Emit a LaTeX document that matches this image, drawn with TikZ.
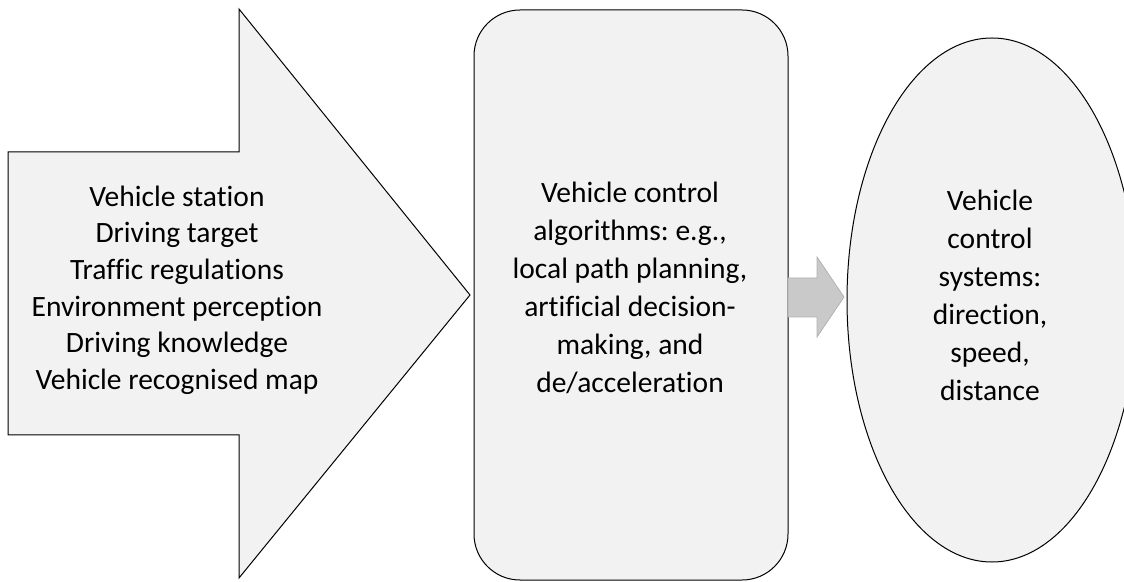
\documentclass[tikz,border=0pt]{standalone}
\usepackage{fontspec}
\setmainfont{Carlito}[Ligatures=NoCommon]
\frenchspacing
\usetikzlibrary{shapes.geometric}
\definecolor{panel}{HTML}{F2F2F2}
\definecolor{flowfill}{HTML}{C9C9C9}
\definecolor{flowline}{HTML}{B2B2B2}
\tikzset{
  x=1pt, y=1pt,
  shapeline/.style={draw=black, line width=1pt, fill=panel, line join=miter},
  label/.style={align=center, text=black, inner sep=0pt},
  tightlines/.style={label, font=\fontsize{29.5}{36.6}\selectfont},
  widelines/.style={label, font=\fontsize{29.5}{38}\selectfont},
}
\begin{document}
\begin{tikzpicture}
\useasboundingbox (0,0) rectangle (1124,581);
\clip (0,0) rectangle (1124,581);

% input arrow
\draw[shapeline] (8,429) -- (239,429) -- (239,572) -- (470,286)
  -- (239,3) -- (239,146) -- (8,146) -- cycle;
\node[tightlines] (inputs) at (177,291) {Vehicle station\\Driving target\\Traffic regulations\\Environment perception\\Driving knowledge\\Vehicle recognised map};

% algorithm block
\draw[shapeline, rounded corners=46pt] (474,1) rectangle (788,571);
\node[widelines] (algo) at (630,293) {Vehicle control\\algorithms: e.g.,\\local path planning,\\artificial decision-\\making, and\\de/acceleration};

% flow arrow between blocks
\draw[draw=flowline, fill=flowfill, line width=0.8pt] (788,303) -- (817,303) -- (817,324)
  -- (844,284) -- (817,244) -- (817,264) -- (788,264) -- cycle;

% control systems
\draw[shapeline] (992,281) ellipse [x radius=145, y radius=262];
\node[widelines] (systems) at (990,286) {Vehicle\\control\\systems:\\direction,\\speed,\\distance};
\end{tikzpicture}
\end{document}
